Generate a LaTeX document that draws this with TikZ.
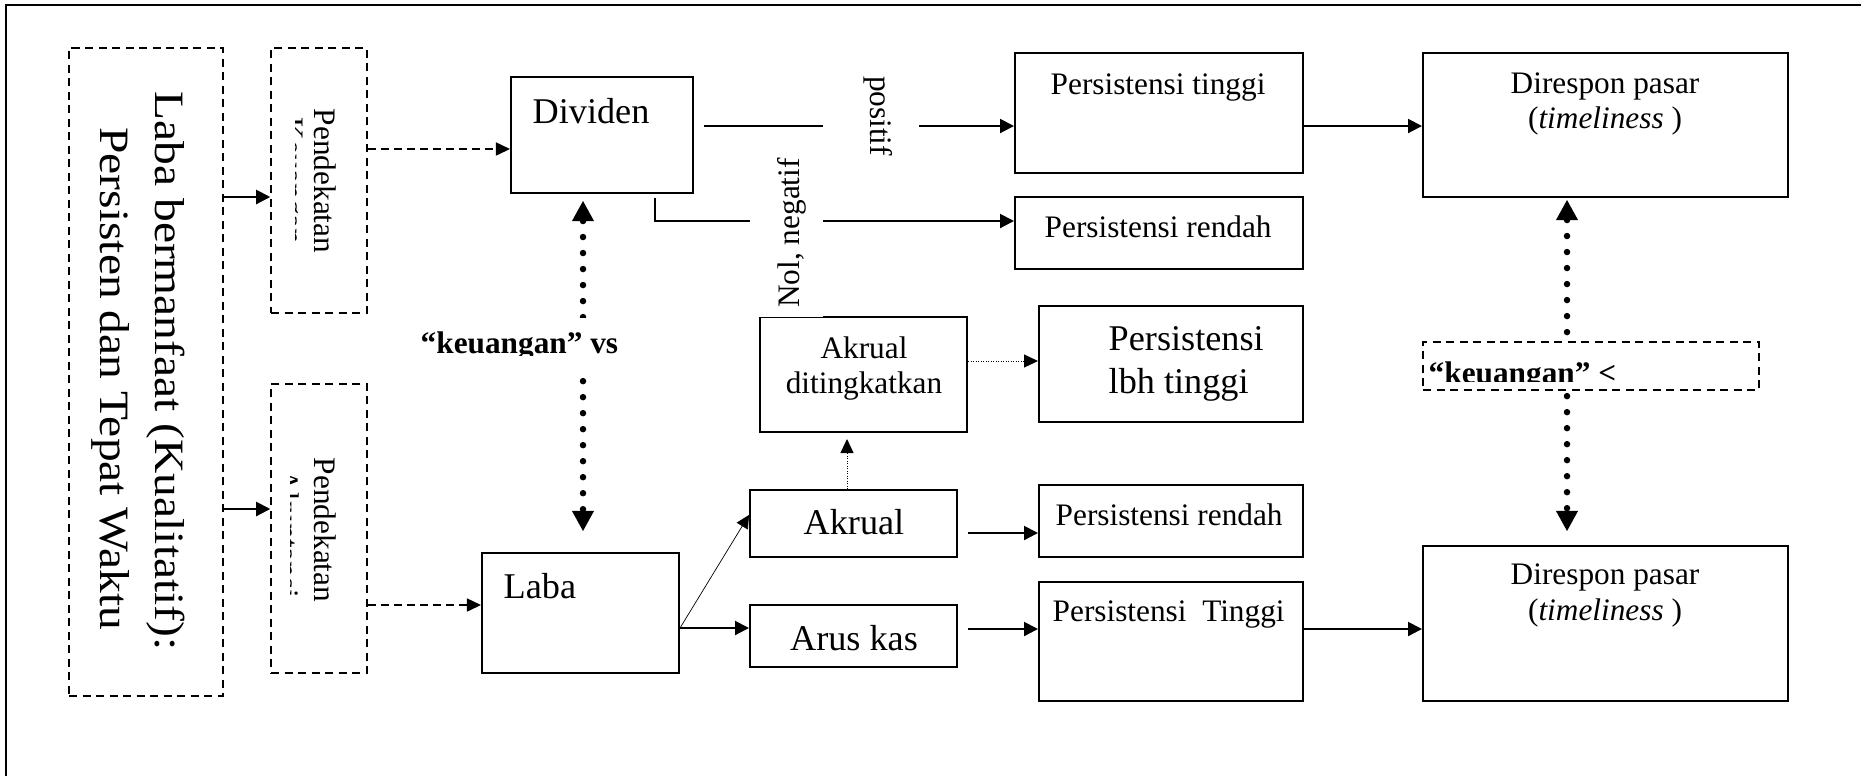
\documentclass[tikz,border=0pt]{standalone}
\usepackage{graphicx}
\usepackage{fontspec}
\setmainfont{Liberation Serif}
\usetikzlibrary{arrows.meta,fit}
% text sizes: small labels, box titles, large side caption
\newcommand{\fszA}{\fontsize{8.9pt}{10pt}\selectfont}
\newcommand{\fszB}{\fontsize{10.3pt}{12pt}\selectfont}
\newcommand{\fszC}{\fontsize{13.5pt}{15pt}\selectfont}
\begin{document}
\begin{tikzpicture}[x=0.01cm,y=-0.01cm,
  box/.style={draw,line width=0.02cm,inner sep=0pt},
  dbox/.style={draw,line width=0.015cm,dash pattern=on 0.08cm off 0.055cm,inner sep=0pt},
  arr/.style={line width=0.02cm,-{Triangle[length=0.14cm,width=0.14cm]}},
  thinarr/.style={line width=0.007cm,-{Triangle[length=0.13cm,width=0.13cm]}},
  darr/.style={line width=0.015cm,dash pattern=on 0.08cm off 0.05cm,-{Triangle[length=0.14cm,width=0.13cm]}},
  sdarr/.style={line width=0.01cm,dash pattern=on 0.01cm off 0.015cm,-{Triangle[length=0.14cm,width=0.13cm]}},
  bigdots/.style={line width=0.065cm,line cap=round,dash pattern=on 0pt off 0.16cm,
     {Triangle[length=0.2cm,width=0.22cm,line width=0pt]}-{Triangle[length=0.2cm,width=0.22cm,line width=0pt]}},
  lbl/.style={inner sep=0pt,anchor=base west},
  lblc/.style={inner sep=0pt,anchor=base},
  cover/.style={fill=white,inner sep=0pt},
]
\useasboundingbox (0,0) rectangle (1861,775);
\clip (0,0) rectangle (1861,775);

% outer frame (only top and left edges fall on the page)
\draw[line width=0.02cm] (6,800) -- (6,5) -- (1900,5);

% boxes
\node[dbox,fit={(69,48)(223,696)}] (big) {};
\node[dbox,fit={(271,48)(367,313)}] (pk) {};
\node[dbox,fit={(271,384)(367,673)}] (pa) {};
\node[box,fit={(511,77)(693,193)}] (div) {};
\node[box,fit={(482,553)(679,673)}] (laba) {};
\node[box,fit={(1015,53)(1303,173)}] (ptg) {};
\node[box,fit={(1015,197)(1303,269)}] (prd) {};
\node[box,fit={(760,317)(967,432)}] (akd) {};
\node[box,fit={(1039,306)(1303,422)}] (plb) {};
\node[box,fit={(750,490)(957,557)}] (akr) {};
\node[box,fit={(750,605)(957,667)}] (arus) {};
\node[box,fit={(1039,485)(1303,557)}] (prd2) {};
\node[box,fit={(1039,582)(1303,701)}] (ptg2) {};
\node[box,fit={(1423,53)(1788,197)}] (dir1) {};
\node[box,fit={(1423,546)(1788,701)}] (dir2) {};

% connectors
\draw[arr] (big.east |- 0,197) -- (pk.west |- 0,197);
\draw[arr] (big.east |- 0,509) -- (pa.west |- 0,509);
\draw[darr] (pk.east |- 0,149) -- (div.west |- 0,149);
\draw[darr] (pa.east |- 0,605) -- (laba.west |- 0,605);
\draw[arr,shorten <=0.1cm] (div.east |- 0,126) -- (ptg.west |- 0,126);
\draw[arr,shorten <=0.04cm] (div.south -| 655,0) |- (prd.west |- 0,221);
\draw[thinarr] (laba.east |- 0,628) -- (akr.west |- 0,515);
\draw[arr] (laba.east |- 0,628) -- (arus.west |- 0,628);
\draw[sdarr,shorten >=0.06cm] (akr.north -| 847,0) -- (akd.south -| 847,0);
\draw[sdarr] (akd.east |- 0,361) -- (plb.west |- 0,361);
\draw[arr,shorten <=0.1cm] (akr.east |- 0,533) -- (prd2.west |- 0,533);
\draw[arr,shorten <=0.1cm] (arus.east |- 0,629) -- (ptg2.west |- 0,629);
\draw[arr] (ptg.east |- 0,126) -- (dir1.west |- 0,126);
\draw[arr] (ptg2.east |- 0,629) -- (dir2.west |- 0,629);
\draw[bigdots,shorten <=0.07cm,shorten >=0.21cm] (div.south -| 583,0) -- (laba.north -| 583,0);
\draw[bigdots,shorten <=0.02cm,shorten >=0.14cm] (dir1.south -| 1567,0) -- (dir2.north -| 1567,0);

% branch labels on white ground
\node[cover,fit={(823,60)(919,190)}] (pcov) {};
\node[cover,fit={(750,150)(823,316.5)}] (ncov) {};
\node[inner sep=0pt,rotate=-90,font=\fszA] (tpos) at (878,116) {positif};
\node[inner sep=0pt,rotate=90,font=\fszA] (tnol) at (792,233) {Nol, negatif};

% comparison labels over the dotted links
\node[cover,fit={(415,318)(630,372)}] (kcov) {};
\node[dbox,fill=white,fit={(1423,342)(1759,390)}] (kbox) {};
\begin{scope}
  \clip (400,300) rectangle (700,355);
  \node[lbl,font=\fszA\bfseries] (tkvs) at (420,353) {“keuangan” vs};
\end{scope}
\begin{scope}
  \clip (1424,343) rectangle (1758,381);
  \node[lbl,font=\fszA\bfseries] (tklt) at (1428,383) {“keuangan” <};
\end{scope}

% side caption
\node[lblc,rotate=-90,font=\fszC] (tbig1) at (155,371) {\scalebox{1}[0.88]{Laba bermanfaat (Kualitatif):}};
\node[lblc,rotate=-90,font=\fszC] (tbig2) at (100,379) {\scalebox{1}[0.88]{Persisten dan Tepat Waktu}};

% approach boxes, second line cut by the box
\node[lblc,rotate=-90,font=\fszA] (tpk1) at (314,181) {Pendekatan};
\begin{scope}
  \clip (295,48) rectangle (367,313);
  \node[lblc,rotate=-90,font=\fszA] (tpk2) at (282,181) {Keuangan};
\end{scope}
\node[lblc,rotate=-90,font=\fszA] (tpa1) at (314,530) {Pendekatan};
\begin{scope}
  \clip (290,384) rectangle (367,673);
  \node[lblc,rotate=-90,font=\fszA] (tpa2) at (277,534) {Akuntansi};
\end{scope}

% box texts
\node[lbl,font=\fszB] (tdiv) at (532,123) {Dividen};
\node[lbl,font=\fszB] (tlaba) at (503,598) {Laba};
\node[lbl,font=\fszA] (tptg) at (1050,94) {Persistensi tinggi};
\node[lbl,font=\fszA] (tprd) at (1044,237) {Persistensi rendah};
\node[lblc,font=\fszA] (takd1) at (864,358) {Akrual};
\node[lblc,font=\fszA] (takd2) at (864,393) {ditingkatkan};
\node[lbl,font=\fszB] (tplb1) at (1108,350) {Persistensi};
\node[lbl,font=\fszB] (tplb2) at (1108,393) {lbh tinggi};
\node[lblc,font=\fszB] (takr) at (854,534) {Akrual};
\node[lblc,font=\fszB] (tarus) at (854,650) {Arus kas};
\node[lbl,font=\fszA] (tprd2) at (1055,525) {Persistensi rendah};
\node[lbl,font=\fszA] (tptg2) at (1052,621) {Persistensi\ \ Tinggi};
\node[lblc,font=\fszA] (tdir1a) at (1605,93) {Direspon pasar};
\node[lblc,font=\fszA] (tdir1b) at (1605,128) {(\textit{timeliness} )};
\node[lblc,font=\fszA] (tdir2a) at (1605,584) {Direspon pasar};
\node[lblc,font=\fszA] (tdir2b) at (1605,620) {(\textit{timeliness} )};
\end{tikzpicture}
\end{document}
